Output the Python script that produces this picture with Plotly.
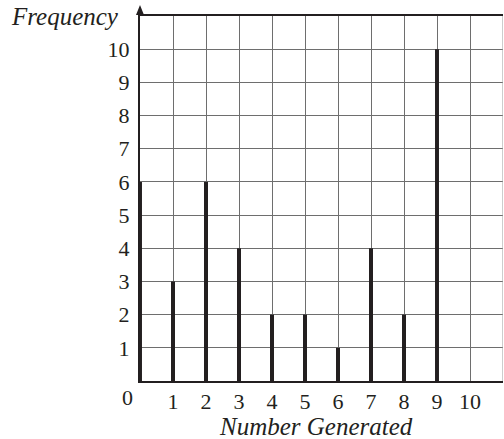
import plotly.graph_objects as go

numbers = [0, 1, 2, 3, 4, 5, 6, 7, 8, 9]
frequency = [6, 3, 6, 4, 2, 2, 1, 4, 2, 10]
x_ticks = [1, 2, 3, 4, 5, 6, 7, 8, 9, 10]
y_ticks = [1, 2, 3, 4, 5, 6, 7, 8, 9, 10]

SERIF = "Liberation Serif, Times New Roman, serif"
INK = "#231f20"
TICK_SIZE = 22
TITLE_SIZE = 25

fig = go.Figure()
fig.add_trace(go.Bar(x=numbers, y=frequency, width=0.12,
                     marker=dict(color=INK, line=dict(width=0)),
                     hoverinfo="x+y"))

fig.update_layout(
    width=504, height=439,
    margin=dict(l=140, r=1, t=16, b=58),
    paper_bgcolor="white", plot_bgcolor="white",
    showlegend=False,
    font=dict(family=SERIF, size=TICK_SIZE, color=INK),
)
fig.update_xaxes(range=[0, 11], tickvals=x_ticks, ticktext=[str(v) for v in x_ticks],
                 showgrid=True, gridcolor="#6e6e6e", gridwidth=1,
                 showline=True, linecolor=INK, linewidth=2, mirror=True,
                 ticks="", ticklabelstandoff=0, zeroline=False,
                 tickfont=dict(family=SERIF, size=TICK_SIZE, color=INK))
fig.update_yaxes(range=[0, 11], tickvals=y_ticks, ticktext=[str(v) for v in y_ticks],
                 showgrid=True, gridcolor="#6e6e6e", gridwidth=1,
                 showline=True, linecolor=INK, linewidth=2,
                 ticks="", ticklabelstandoff=4, zeroline=False,
                 tickfont=dict(family=SERIF, size=TICK_SIZE, color=INK))

fig.add_shape(type="line", xref="x", yref="paper", x0=11, x1=11, y0=0, y1=1,
              line=dict(color="#9a9a9a", width=1))

fig.add_annotation(text="0", xref="paper", yref="paper", x=-13/363, y=-17/365,
                   showarrow=False, xanchor="center", yanchor="middle",
                   font=dict(family=SERIF, size=TICK_SIZE, color=INK))
fig.add_annotation(text="Number Generated", xref="paper", yref="paper",
                   x=(316-140)/363, y=-(426-381)/365, showarrow=False,
                   xanchor="center", yanchor="middle",
                   font=dict(family=SERIF, size=TITLE_SIZE, color=INK, style="italic"))
fig.add_annotation(text="Frequency", xref="paper", yref="paper",
                   x=(121-140)/363, y=1-(17-16)/365, showarrow=False,
                   xanchor="right", yanchor="middle",
                   font=dict(family=SERIF, size=TITLE_SIZE, color=INK, style="italic"))
fig.add_shape(type="path", xref="paper", yref="paper",
              path="M {a},{b} L {c},{b} L {d},{e} Z".format(
                  a=-4/363, c=4/363, b=1 + 1/365, d=0, e=1 + 11/365),
              fillcolor=INK, line=dict(color=INK, width=0))

fig.write_html("out.html", config={"displayModeBar": False},
               post_script="document.body.style.margin='0';document.body.style.overflow='hidden';")
